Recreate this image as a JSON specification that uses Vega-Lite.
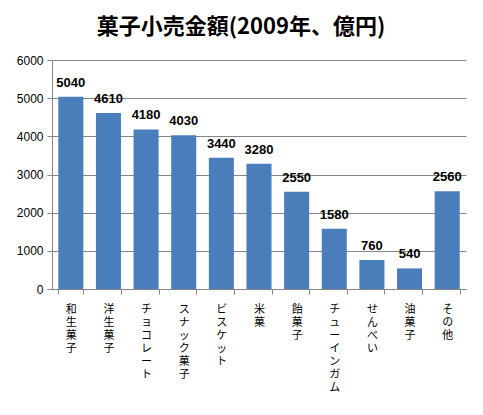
{
  "$schema": "https://vega.github.io/schema/vega-lite/v6.json",
  "width": 414,
  "height": 229,
  "autosize": "none",
  "padding": {"left": 52, "top": 60, "right": 17, "bottom": 126},
  "background": "white",
  "title": {
    "text": "菓子小売金額(2009年、億円)",
    "font": "Noto Sans CJK JP",
    "fontSize": 22,
    "fontWeight": "bold",
    "color": "black",
    "anchor": "middle",
    "dx": -18,
    "offset": 15
  },
  "data": {
    "values": [
      {"category": "和生菓子", "amount": 5040},
      {"category": "洋生菓子", "amount": 4610},
      {"category": "チョコレート", "amount": 4180},
      {"category": "スナック菓子", "amount": 4030},
      {"category": "ビスケット", "amount": 3440},
      {"category": "米菓", "amount": 3280},
      {"category": "飴菓子", "amount": 2550},
      {"category": "チューインガム", "amount": 1580},
      {"category": "せんべい", "amount": 760},
      {"category": "油菓子", "amount": 540},
      {"category": "その他", "amount": 2560}
    ]
  },
  "encoding": {
    "x": {
      "field": "category",
      "type": "nominal",
      "sort": null,
      "title": null,
      "scale": {"paddingInner": 0.335, "paddingOuter": 0.1675},
      "axis": {
        "labelAngle": 0,
        "labelAlign": "center",
        "labelBaseline": "top",
        "labelExpr": "split(datum.label, '')",
        "labelLineHeight": 13,
        "labelFont": "Noto Sans CJK JP",
        "labelFontSize": 11,
        "labelColor": "black",
        "labelPadding": 9,
        "tickBand": "extent",
        "tickSize": 5,
        "tickColor": "#868686",
        "domainColor": "#868686",
        "grid": false
      }
    },
    "y": {
      "field": "amount",
      "type": "quantitative",
      "title": null,
      "scale": {"domain": [0, 6000]},
      "axis": {
        "values": [0, 1000, 2000, 3000, 4000, 5000, 6000],
        "format": "d",
        "labelFont": "Liberation Sans",
        "labelFontSize": 12,
        "labelColor": "black",
        "labelPadding": 4,
        "tickSize": 5,
        "tickColor": "#868686",
        "domainColor": "#868686",
        "gridColor": "#868686",
        "gridOpacity": 1
      }
    }
  },
  "layer": [
    {
      "mark": {"type": "bar", "color": "#4a7ebb"}
    },
    {
      "mark": {
        "type": "text",
        "baseline": "alphabetic",
        "dy": -10,
        "font": "Liberation Sans",
        "fontSize": 13,
        "fontWeight": "bold",
        "color": "black"
      },
      "encoding": {"text": {"field": "amount", "type": "quantitative", "format": "d"}}
    }
  ],
  "config": {
    "view": {"stroke": null}
  }
}
